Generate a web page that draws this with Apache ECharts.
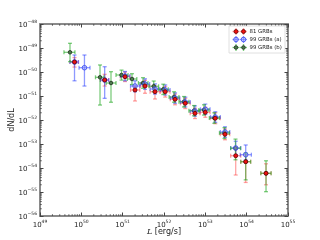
<!DOCTYPE html>
<html><head><meta charset="utf-8">
<script src="https://cdn.jsdelivr.net/npm/echarts@6/dist/echarts.min.js"></script>
<style>html,body{margin:0;padding:0;background:#fff}#c{width:320px;height:240px}</style>
</head><body><div id="c"></div>
<script>
// ---- data ----
const seriesNames = ['81 GRBs', '99 GRBs (a)', '99 GRBs (b)'];

// 81 GRBs (red)
const redL   = [6.84e49, 3.67e50, 1.14e51, 1.99e51, 3.47e51, 6.05e51, 1.07e52, 1.85e52, 3.27e52, 5.62e52, 9.98e52, 1.74e53, 2.99e53, 5.43e53, 9.48e53, 2.94e54];
const redLlo = [5.3e49, 2.9e50, 8.8e50, 1.55e51, 2.65e51, 4.6e51, 8.2e51, 1.42e52, 2.5e52, 4.3e52, 7.6e52, 1.33e53, 2.3e53, 4.1e53, 7.2e53, 2.2e54];
const redLhi = [8.5e49, 4.6e50, 1.5e51, 2.6e51, 4.5e51, 7.9e51, 1.4e52, 2.4e52, 4.3e52, 7.4e52, 1.3e53, 2.3e53, 3.9e53, 7.2e53, 1.25e54, 3.9e54];
const redY   = [2.61e-50, 4.64e-51, 6.37e-51, 1.78e-51, 2.61e-51, 1.51e-51, 1.51e-51, 7.28e-52, 4.97e-52, 1.90e-52, 2.09e-52, 1.18e-52, 2.54e-53, 3.25e-54, 1.83e-54, 6.01e-55];
const redYlo = [1.6e-50, 2.6e-51, 4.0e-51, 6.2e-52, 1.3e-51, 7.5e-52, 9.0e-52, 4.3e-52, 3.0e-52, 1.15e-52, 1.3e-52, 7.0e-53, 1.5e-53, 5.1e-55, 2.5e-55, 2.0e-55];
const redYhi = [4.0e-50, 8.0e-51, 1.0e-50, 2.6e-51, 4.5e-51, 2.6e-51, 2.5e-51, 1.2e-51, 8.0e-52, 3.1e-52, 3.4e-52, 2.0e-52, 4.2e-53, 6.8e-54, 3.5e-54, 1.5e-54];

// 99 GRBs (a) (blue)
const blueL   = [6.84e49, 1.19e50, 3.67e50, 1.14e51, 1.99e51, 3.47e51, 6.05e51, 1.07e52, 1.85e52, 3.27e52, 5.62e52, 9.98e52, 1.74e53, 2.99e53, 5.43e53, 9.48e53];
const blueLlo = [5.3e49, 8.8e49, 2.9e50, 8.8e50, 1.55e51, 2.65e51, 4.6e51, 8.2e51, 1.42e52, 2.5e52, 4.3e52, 7.6e52, 1.33e53, 2.3e53, 4.1e53, 7.0e53];
const blueLhi = [8.5e49, 1.62e50, 4.6e50, 1.5e51, 2.6e51, 4.5e51, 7.9e51, 1.4e52, 2.4e52, 4.3e52, 7.4e52, 1.3e53, 2.3e53, 3.9e53, 7.2e53, 1.3e54];
const blueY   = [2.61e-50, 1.51e-50, 4.64e-51, 6.81e-51, 2.61e-51, 3.16e-51, 1.96e-51, 1.78e-51, 8.25e-52, 5.62e-52, 2.37e-52, 2.79e-52, 1.33e-52, 3.16e-53, 6.81e-54, 3.58e-54];
const blueYlo = [4.3e-51, 2.6e-51, 8.0e-52, 4.3e-51, 1.5e-51, 1.9e-51, 1.2e-51, 1.1e-51, 5.0e-52, 3.5e-52, 1.45e-52, 1.7e-52, 8.0e-53, 1.9e-53, 3.5e-54, 2.15e-54];
const blueYhi = [5.1e-50, 5.1e-50, 1.66e-50, 1.05e-50, 4.3e-51, 5.2e-51, 3.2e-51, 2.9e-51, 1.35e-51, 9.0e-52, 3.9e-52, 4.6e-52, 2.2e-52, 5.2e-53, 1.3e-53, 9.1e-54];

// 99 GRBs (b) (green)
const greenL   = [5.32e49, 2.83e50, 5.22e50, 9.38e50, 1.68e51, 3.10e51, 5.64e51, 9.62e51, 1.75e52, 3.05e52, 5.32e52, 9.29e52, 1.65e53, 2.91e53, 5.37e53, 9.48e53, 2.94e54];
const greenLlo = [3.8e49, 2.2e50, 4.0e50, 6.9e50, 1.3e51, 2.4e51, 4.3e51, 7.3e51, 1.33e52, 2.3e52, 4.0e52, 7.0e52, 1.25e53, 2.2e53, 4.1e53, 7.2e53, 2.2e54];
const greenLhi = [7.0e49, 3.5e50, 6.9e50, 1.35e51, 2.2e51, 4.1e51, 7.4e51, 1.27e52, 2.3e52, 4.0e52, 7.0e52, 1.22e53, 2.2e53, 3.8e53, 7.1e53, 1.25e54, 3.9e54];
const greenY   = [6.62e-50, 6.01e-51, 3.48e-51, 7.50e-51, 5.11e-51, 3.48e-51, 2.54e-51, 1.90e-51, 9.09e-52, 5.78e-52, 2.44e-52, 2.61e-52, 1.21e-52, 2.87e-53, 6.62e-54, 1.83e-54, 6.01e-55];
const greenYlo = [2.69e-50, 4.2e-52, 5.5e-52, 4.6e-51, 3.0e-51, 2.1e-51, 1.5e-51, 1.15e-51, 5.5e-52, 3.5e-52, 1.5e-52, 1.6e-52, 7.3e-53, 1.7e-53, 2.2e-54, 3.2e-55, 1.03e-55];
const greenYhi = [1.57e-49, 1.96e-50, 1.03e-50, 1.2e-50, 8.5e-51, 5.8e-51, 4.2e-51, 3.1e-51, 1.5e-51, 9.5e-52, 4.0e-52, 4.3e-52, 2.0e-52, 4.8e-53, 1.6e-53, 4.2e-54, 2.0e-54];

// axis ranges (decades)
const xDecades = [49, 55];
const yDecades = [-56, -48];

// ---- build (axes work in log10 space; values are converted, not invented) ----
const lg = Math.log10;
function rows(L, Llo, Lhi, Y, Ylo, Yhi) {
  return L.map((v, i) => [lg(v), lg(Llo[i]), lg(Lhi[i]), lg(Y[i]), lg(Ylo[i]), lg(Yhi[i])]);
}
const sets = [
  { name: seriesNames[0], data: rows(redL, redLlo, redLhi, redY, redYlo, redYhi),
    bar: 'rgba(255,50,50,0.45)', fill: '#ee1111', edge: '#660000', r: 2.0 },
  { name: seriesNames[1], data: rows(blueL, blueLlo, blueLhi, blueY, blueYlo, blueYhi),
    bar: 'rgba(50,70,255,0.55)', fill: 'rgba(150,160,255,0.45)', edge: '#3344ee', r: 2.3 },
  { name: seriesNames[2], data: rows(greenL, greenLlo, greenLhi, greenY, greenYlo, greenYhi),
    bar: 'rgba(40,170,40,0.6)', fill: '#4d7a4d', edge: '#1a2a1a', r: 1.8 }
];
const CAP = 2;
function makeRender(color) {
  return function (params, api) {
    const c = api.coord([api.value(0), api.value(3)]);
    const xl = api.coord([api.value(1), api.value(3)])[0];
    const xh = api.coord([api.value(2), api.value(3)])[0];
    const yl = api.coord([api.value(0), api.value(4)])[1];
    const yh = api.coord([api.value(0), api.value(5)])[1];
    const st = { stroke: color, lineWidth: 1.3 };
    const ln = (x1, y1, x2, y2) => ({ type: 'line', shape: { x1, y1, x2, y2 }, style: st });
    return { type: 'group', children: [
      ln(xl, c[1], xh, c[1]), ln(c[0], yl, c[0], yh),
      ln(xl, c[1] - CAP, xl, c[1] + CAP), ln(xh, c[1] - CAP, xh, c[1] + CAP),
      ln(c[0] - CAP, yl, c[0] + CAP, yl), ln(c[0] - CAP, yh, c[0] + CAP, yh)
    ] };
  };
}
// log-style minor ticks (2..9 within each decade) drawn along the frame
function minorTickRender(params, api) {
  const ch = [];
  const st = { stroke: '#444', lineWidth: 0.8 };
  const bl = api.coord([xDecades[0], yDecades[0]]);
  const tr = api.coord([xDecades[1], yDecades[1]]);
  const len = 1.8;
  for (let d = xDecades[0]; d < xDecades[1]; d++) {
    for (let k = 2; k <= 9; k++) {
      const x = api.coord([d + lg(k), yDecades[0]])[0];
      ch.push({ type: 'line', shape: { x1: x, y1: bl[1], x2: x, y2: bl[1] - len }, style: st });
      ch.push({ type: 'line', shape: { x1: x, y1: tr[1], x2: x, y2: tr[1] + len }, style: st });
    }
  }
  for (let d = yDecades[0]; d < yDecades[1]; d++) {
    for (let k = 2; k <= 9; k++) {
      const y = api.coord([xDecades[0], d + lg(k)])[1];
      ch.push({ type: 'line', shape: { x1: bl[0], y1: y, x2: bl[0] + len, y2: y }, style: st });
      ch.push({ type: 'line', shape: { x1: tr[0], y1: y, x2: tr[0] - len, y2: y }, style: st });
    }
  }
  return { type: 'group', children: ch };
}
const barOrder = [0, 1, 2];
const series = [{ type: 'custom', data: [[xDecades[0], yDecades[0]]], renderItem: minorTickRender, silent: true, z: 20 }];
barOrder.forEach((k, j) => {
  const s = sets[k];
  series.push({ type: 'custom', name: s.name, data: s.data, renderItem: makeRender(s.bar),
    encode: { x: [0, 1, 2], y: [3, 4, 5] }, z: 2 + j, silent: true });
});
[2, 1, 0].forEach((k, j) => {
  const s = sets[k];
  series.push({ type: 'scatter', name: s.name, data: s.data.map(d => [d[0], d[3]]),
    symbol: 'circle', symbolSize: s.r * 2,
    itemStyle: { color: s.fill, borderColor: s.edge, borderWidth: 0.8, opacity: 1 },
    z: 10 + j, silent: true });
});

const FONT = 'DejaVu Sans';
const rich = {
  b: { fontSize: 7, fontFamily: FONT, color: '#222', lineHeight: 10, verticalAlign: 'bottom' },
  s: { fontSize: 4.5, fontFamily: FONT, color: '#222', lineHeight: 10, verticalAlign: 'top', padding: [0, 0, 3, 0] }
};
const fmt = v => '{b|10}{s|' + String(Math.round(v)).replace('-', '\u2212') + '}';
const lineStyle = { color: '#8a8a8a', width: 2 };
function ax(extra) {
  return Object.assign({
    type: 'value', interval: 1,
    axisLine: { show: true, onZero: false, lineStyle },
    axisTick: { show: true, inside: true, length: 3.5, lineStyle: { color: '#444', width: 1 } },
    splitLine: { show: false },
    axisLabel: { show: false }
  }, extra);
}
const legendRows = [31.5, 39.5, 47.5];
const graphic = [{ type: 'rect', shape: { x: 229, y: 26, width: 56, height: 27 },
  style: { fill: '#fff', stroke: '#d8d8d8', lineWidth: 0.8 }, z: 50 }];
sets.forEach((s, i) => {
  const y = legendRows[i];
  [236, 243.5].forEach(x => {
    graphic.push({ type: 'line', shape: { x1: x - 3.5, y1: y, x2: x + 3.5, y2: y }, style: { stroke: s.bar, lineWidth: 1.3 }, z: 51 });
    graphic.push({ type: 'line', shape: { x1: x, y1: y - 3.5, x2: x, y2: y + 3.5 }, style: { stroke: s.bar, lineWidth: 1.3 }, z: 51 });
    graphic.push({ type: 'circle', shape: { cx: x, cy: y, r: s.r }, style: { fill: s.fill, stroke: s.edge, lineWidth: 0.8 }, z: 52 });
  });
  graphic.push({ type: 'text', x: 249.5, y: y, style: { text: s.name, fontSize: 5.4, fontFamily: FONT, fill: '#222', verticalAlign: 'middle' }, z: 52 });
});

const chart = echarts.init(document.getElementById('c'), null, { renderer: 'canvas' });
chart.setOption({
  animation: false,
  backgroundColor: '#fff',
  grid: { left: 40, top: 24, width: 248, height: 192, containLabel: false, outerBoundsMode: 'none' },
  xAxis: [
    ax({ min: xDecades[0], max: xDecades[1], position: 'bottom',
      axisLabel: { show: true, margin: 3, formatter: fmt, rich },
      name: '{i|L} [erg/s]', nameLocation: 'middle', nameGap: 12, nameMoveOverlap: false,
      nameTextStyle: { fontSize: 8, fontFamily: FONT, color: '#222',
        rich: { i: { fontSize: 8, fontFamily: 'DejaVu Serif', fontStyle: 'italic', color: '#222' } } } }),
    ax({ min: xDecades[0], max: xDecades[1], position: 'top' })
  ],
  yAxis: [
    ax({ min: yDecades[0], max: yDecades[1], position: 'left',
      axisLabel: { show: true, margin: 3, formatter: fmt, rich },
      name: 'dN/dL', nameLocation: 'middle', nameGap: 24, nameRotate: 90, nameMoveOverlap: false,
      nameTextStyle: { fontSize: 8, fontFamily: FONT, color: '#222' } }),
    ax({ min: yDecades[0], max: yDecades[1], position: 'right' })
  ],
  series,
  graphic
});
</script></body></html>
